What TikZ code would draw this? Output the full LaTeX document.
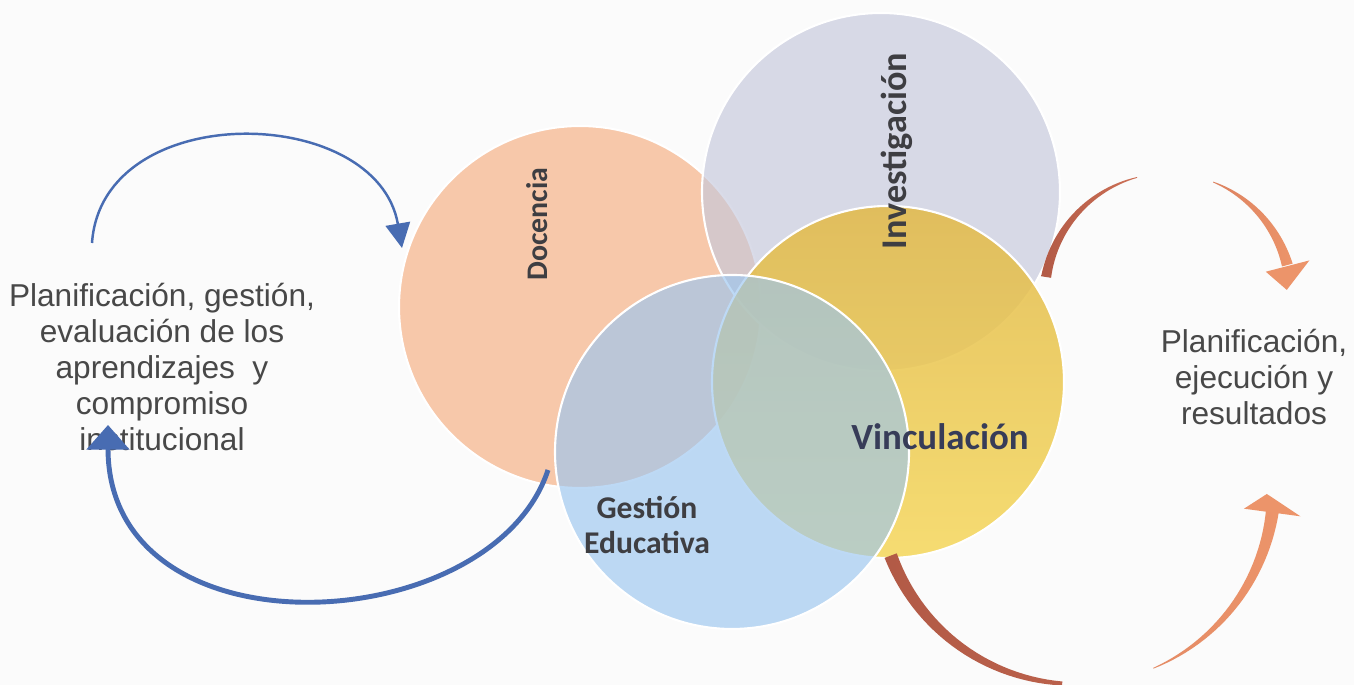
\documentclass[tikz,border=0pt]{standalone}
\usepackage{fontspec}
\setmainfont{Liberation Sans}
\newfontfamily\calibrifont{Carlito}
\usetikzlibrary{arrows.meta,calc}

\definecolor{paper}{RGB}{251,251,251}
\definecolor{docencia}{RGB}{247,200,170}
\definecolor{investig}{RGB}{197,200,220}
\definecolor{vintop}{RGB}{226,185,70}
\definecolor{vinbot}{RGB}{245,215,90}
\definecolor{gestion}{RGB}{155,198,240}
\definecolor{labelgray}{RGB}{62,62,66}
\definecolor{vinctext}{RGB}{55,60,88}
\definecolor{sidegray}{RGB}{72,72,72}
\definecolor{arrowblue}{RGB}{72,108,178}
\definecolor{arrbrown}{RGB}{178,90,70}
\definecolor{arrrust}{RGB}{205,112,86}
\definecolor{arrorange}{RGB}{236,148,106}

% tapered arc: centre x, centre y, radius, from, to, half width at from, half width at to
\newcommand{\taperarc}[7]{%
  plot[domain=#4:#5, samples=30, variable=\t] ({#1+(#3+#6+(#7-#6)*(\t-#4)/(#5-#4))*cos(\t)}, {#2+(#3+#6+(#7-#6)*(\t-#4)/(#5-#4))*sin(\t)})
  -- plot[domain=#5:#4, samples=30, variable=\t] ({#1+(#3-#6-(#7-#6)*(\t-#4)/(#5-#4))*cos(\t)}, {#2+(#3-#6-(#7-#6)*(\t-#4)/(#5-#4))*sin(\t)})
  -- cycle}

\begin{document}
\begin{tikzpicture}
  \tikzstyle{area}=[circle, draw=white, line width=0.6pt, inner sep=0pt, outer sep=0pt]
  \tikzstyle{areatext}=[text=labelgray, inner sep=0pt, align=center]
  \tikzstyle{sidetext}=[font=\fontsize{9}{10.2}\selectfont, text=sidegray, inner sep=0pt, align=center]
  \tikzstyle{bluearrow}=[draw=arrowblue, line width=0.7pt]

  \useasboundingbox (0,0) rectangle (13.54,6.85);
  \fill[paper] (0,0) rectangle (13.54,6.85);

  % the four areas
  \node[area, fill=docencia, minimum size=3.62cm] (doc) at (5.80,3.78) {};
  \node[area, fill=investig, fill opacity=0.65, minimum size=3.58cm] (inv) at (8.81,4.93) {};
  \node[area, top color=vintop, middle color=vinbot!80!vintop, bottom color=vinbot, fill opacity=0.85, minimum size=3.52cm] (vin) at (8.88,3.03) {};
  \node[area, fill=gestion, fill opacity=0.65, minimum size=3.54cm] (ges) at (7.32,2.33) {};

  \node[areatext, rotate=90, font=\calibrifont\bfseries\fontsize{8.5}{10}\selectfont] (doclabel) at (5.37,4.61) {Docencia};
  \node[areatext, rotate=90, font=\calibrifont\bfseries\fontsize{10.3}{12}\selectfont] (invlabel) at (8.97,5.34) {Investigación};
  \node[areatext, text=vinctext, font=\calibrifont\bfseries\fontsize{10.5}{12}\selectfont] (vinlabel) at (9.40,2.48) {Vinculación};
  \node[areatext, font=\calibrifont\bfseries\fontsize{9}{10}\selectfont] (geslabel) at (6.47,1.60) {Gestión\\Educativa};

  \node[sidetext] (left) at (1.62,3.18) {Planificación, gestión,\\evaluación de los\\aprendizajes~ y\\compromiso\\institucional};
  \node[sidetext] (right) at (12.54,3.08) {Planificación,\\ejecución y\\resultados};

  % blue cycle on the left
  \coordinate (tl0) at (0.92,4.42);
  \coordinate (tl1) at (4.02,4.37);
  \coordinate (bl0) at (5.48,2.15);
  \coordinate (bl1) at (1.08,2.60);
  \draw[bluearrow, -{Triangle[width=7pt,length=7pt]}] (tl0) .. controls (1.02,5.87) and (3.77,5.82) .. (tl1);
  \draw[bluearrow, line width=1.4pt, -{Triangle[width=12pt,length=7pt]}] (bl0) .. controls (4.92,0.45) and (1.08,0.25) .. (bl1);

  % orange cycle on the right
  \coordinate (tr) at (11.68,3.88);
  \coordinate (br) at (10.76,1.99);
  \shade[left color=arrbrown, right color=arrrust] \taperarc{11.68}{3.88}{1.235}{170.7}{104.5}{0.05}{0.004};
  \shade[left color=arrrust!50!arrorange, right color=arrorange] \taperarc{11.68}{3.88}{1.235}{68.5}{15}{0.004}{0.055};
  \fill[arrorange] ([shift={(14.5:1.01)}]tr) -- ([shift={(14.5:1.46)}]tr) -- ([shift={(3.4:1.19)}]tr) -- cycle;
  \shade[left color=arrbrown, right color=arrbrown!70!arrrust] \taperarc{10.76}{1.99}{1.98}{200.6}{266}{0.065}{0.02};
  \shade[left color=arrorange!75!arrrust, right color=arrorange] \taperarc{10.76}{1.99}{1.98}{293}{353}{0.004}{0.065};
  \fill[arrorange] ([shift={(352.3:1.695)}]br) -- ([shift={(352.3:2.265)}]br) -- ([shift={(357.6:1.91)}]br) -- cycle;
\end{tikzpicture}
\end{document}
